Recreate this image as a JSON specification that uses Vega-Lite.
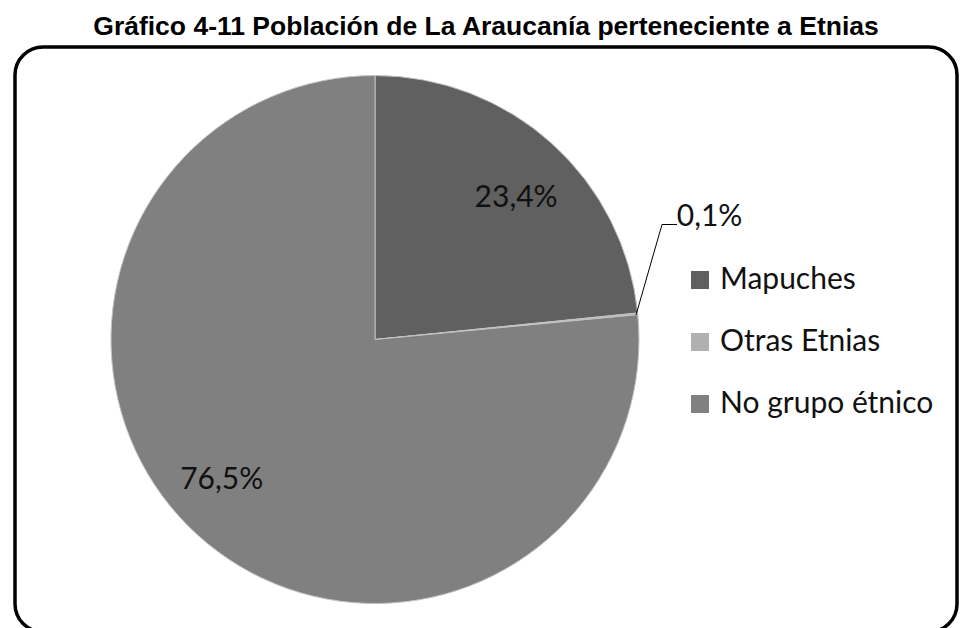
{
  "$schema": "https://vega.github.io/schema/vega-lite/v6.json",
  "width": 942,
  "height": 585,
  "autosize": {"type": "none"},
  "padding": {"left": 15, "top": 47, "right": 3, "bottom": 0},
  "background": "white",
  "title": {
    "text": "Gráfico 4-11 Población de La Araucanía perteneciente a Etnias",
    "font": "Liberation Sans",
    "fontSize": 26.5,
    "fontWeight": "bold",
    "color": "black",
    "anchor": "middle",
    "frame": "group",
    "baseline": "alphabetic",
    "offset": 10,
    "dy": 40
  },
  "config": {
    "view": {"stroke": "black", "strokeWidth": 3.5, "cornerRadius": 28}
  },
  "datasets": {
    "pie": [
      {"cat": "Mapuches", "pct": 23.4, "label": "23,4%", "ord": 1},
      {"cat": "Otras Etnias", "pct": 0.1, "label": "0,1%", "ord": 2},
      {"cat": "No grupo étnico", "pct": 76.5, "label": "76,5%", "ord": 3}
    ],
    "one": [{"k": 1}]
  },
  "layer": [
    {
      "data": {"name": "pie"},
      "mark": {"type": "arc", "outerRadius": 264, "x": 360, "stroke": "#c4c4c4", "strokeWidth": 1},
      "encoding": {
        "theta": {"field": "pct", "type": "quantitative", "stack": true},
        "order": {"field": "ord", "type": "quantitative"},
        "color": {
          "field": "cat",
          "type": "nominal",
          "sort": ["Mapuches", "Otras Etnias", "No grupo étnico"],
          "scale": {
            "domain": ["Mapuches", "Otras Etnias", "No grupo étnico"],
            "range": ["#606060", "#b0b0b0", "#808080"]
          },
          "legend": {
            "orient": "none",
            "legendX": 670,
            "legendY": 218,
            "title": null,
            "symbolType": "square",
            "symbolSize": 324,
            "symbolStrokeWidth": 0,
            "labelFont": "Lato",
            "labelFontSize": 30,
            "labelColor": "#111111",
            "labelLimit": 400,
            "rowPadding": 32,
            "labelOffset": 5,
            "padding": 0
          }
        }
      }
    },
    {
      "data": {"name": "pie"},
      "mark": {"type": "text", "radius": 200, "x": 360, "dx": 7, "dy": 7, "font": "Lato", "fontSize": 30, "color": "#111111", "align": "center", "baseline": "middle"},
      "encoding": {
        "theta": {"field": "pct", "type": "quantitative", "stack": true},
        "order": {"field": "ord", "type": "quantitative"},
        "text": {"condition": {"test": "datum.cat === 'Mapuches'", "field": "label"}, "value": ""}
      }
    },
    {
      "data": {"name": "pie"},
      "mark": {"type": "text", "radius": 207, "x": 360, "dx": -14, "dy": -13, "font": "Lato", "fontSize": 30, "color": "#111111", "align": "center", "baseline": "middle"},
      "encoding": {
        "theta": {"field": "pct", "type": "quantitative", "stack": true},
        "order": {"field": "ord", "type": "quantitative"},
        "text": {"condition": {"test": "datum.cat === 'No grupo étnico'", "field": "label"}, "value": ""}
      }
    },
    {
      "data": {"name": "pie"},
      "mark": {"type": "text", "radius": 264, "x": 360, "dx": 39, "dy": -97, "font": "Lato", "fontSize": 30, "color": "#111111", "align": "left", "baseline": "middle"},
      "encoding": {
        "theta": {"field": "pct", "type": "quantitative", "stack": true},
        "order": {"field": "ord", "type": "quantitative"},
        "text": {"condition": {"test": "datum.cat === 'Otras Etnias'", "field": "label"}, "value": ""}
      }
    },
    {
      "data": {"name": "one"},
      "mark": {"type": "rule", "color": "black", "strokeWidth": 1},
      "encoding": {
        "x": {"value": 621},
        "y": {"value": 268},
        "x2": {"value": 647},
        "y2": {"value": 177.5}
      }
    },
    {
      "data": {"name": "one"},
      "mark": {"type": "rule", "color": "black", "strokeWidth": 1},
      "encoding": {
        "x": {"value": 647},
        "y": {"value": 177.5},
        "x2": {"value": 662},
        "y2": {"value": 177.5}
      }
    }
  ]
}
